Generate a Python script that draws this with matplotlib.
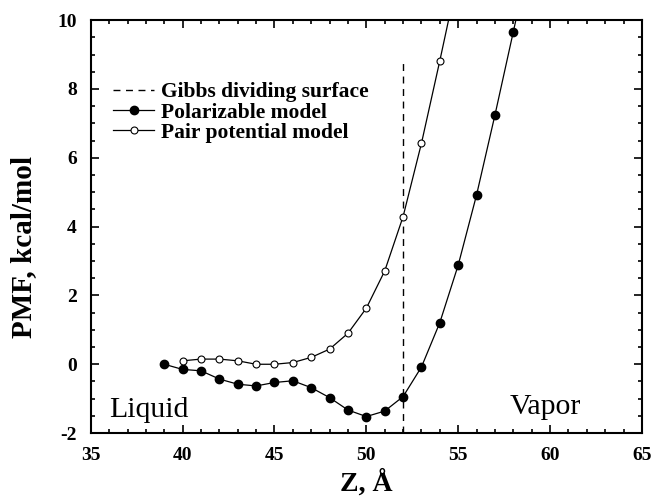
import matplotlib
matplotlib.use("Agg")
import matplotlib.pyplot as plt
from matplotlib.ticker import MultipleLocator

plt.rcParams['font.family'] = ['Liberation Serif', 'DejaVu Serif']
plt.rcParams['axes.unicode_minus'] = False

# Data
z_pol = [39, 40, 41, 42, 43, 44, 45, 46, 47, 48, 49, 50, 51, 52, 53, 54, 55, 56, 57, 58, 59]
pmf_pol = [0.0, -0.15, -0.19, -0.43, -0.58, -0.63, -0.53, -0.48, -0.68, -0.97, -1.33, -1.52,
           -1.36, -0.94, -0.08, 1.21, 2.88, 4.92, 7.24, 9.66, 12.1]
z_pair = [40, 41, 42, 43, 44, 45, 46, 47, 48, 49, 50, 51, 52, 53, 54, 55]
pmf_pair = [0.10, 0.15, 0.15, 0.10, 0.0, 0.0, 0.05, 0.2, 0.44, 0.9, 1.63, 2.71,
            4.29, 6.42, 8.82, 11.3]
gibbs_z = 52
gibbs_y = [-2, 8.8]

fig = plt.figure(figsize=(6.53, 5.03), dpi=100)
ax = fig.add_axes([0.139, 0.139, 0.844, 0.821])

ax.plot([gibbs_z, gibbs_z], gibbs_y, color='black', lw=1.0, ls=(0, (5, 4)),
        label='Gibbs dividing surface')
ax.plot(z_pol, pmf_pol, color='black', lw=0.9, marker='o', ms=6,
        mfc='black', mec='black', label='Polarizable model')
ax.plot(z_pair, pmf_pair, color='black', lw=0.9, marker='o', ms=5,
        mfc='white', mec='black', mew=0.8, label='Pair potential model')

ax.set_xlim(35, 65)
ax.set_ylim(-2, 10)
ax.xaxis.set_major_locator(MultipleLocator(5))
ax.xaxis.set_minor_locator(MultipleLocator(1))
ax.yaxis.set_major_locator(MultipleLocator(2))
ax.yaxis.set_minor_locator(MultipleLocator(0.5))
ax.tick_params(which='both', direction='in', top=True, right=True, width=1.2)
ax.tick_params(which='major', length=6, labelsize=14, pad=10)
ax.tick_params(which='minor', length=3)
for lab in ax.get_xticklabels() + ax.get_yticklabels():
    lab.set_fontweight('bold')
for sp in ax.spines.values():
    sp.set_linewidth(1.5)

ax.set_xlabel('Z, Å', fontsize=20, fontweight='bold', labelpad=4)
ax.set_ylabel('PMF, kcal/mol', fontsize=21, fontweight='bold')
ax.yaxis.set_label_coords(-0.098, 0.45)

ax.text(36.0, -1.33, 'Liquid', fontsize=21.5, va='center', ha='left')
ax.text(57.8, -1.23, 'Vapor', fontsize=21.5, va='center', ha='left')

leg = ax.legend(loc='upper left', bbox_to_anchor=(0.025, 0.87), frameon=False,
                prop={'weight': 'bold', 'size': 15.5}, handlelength=1.9,
                handletextpad=0.3, labelspacing=0.0, borderaxespad=0)

fig.savefig('out.png', dpi=100)
